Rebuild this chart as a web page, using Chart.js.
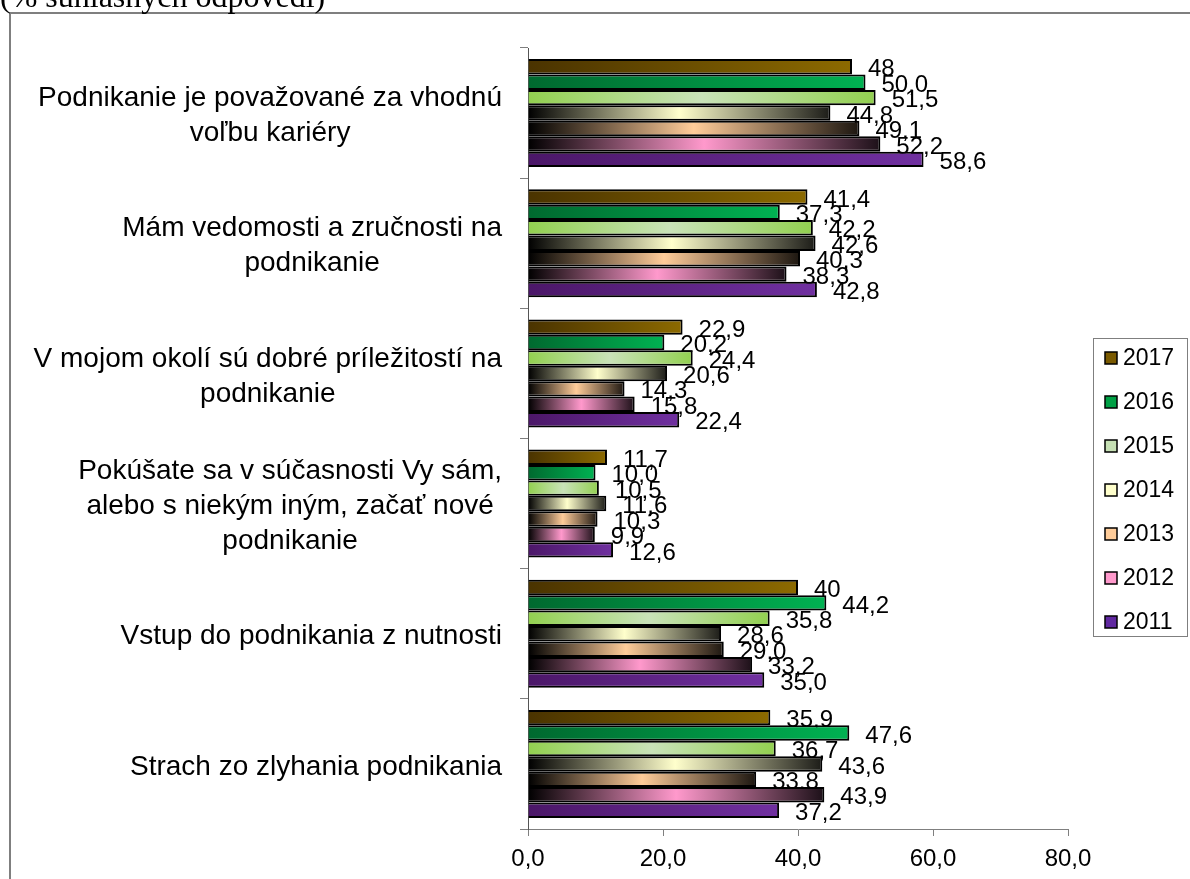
<!DOCTYPE html>
<html lang="sk">
<head>
<meta charset="utf-8">
<script src="https://cdn.jsdelivr.net/npm/chart.js@4"></script>
<style>
  html, body { margin: 0; padding: 0; background: #fff; overflow: hidden; }
  #graf { display: block; }
</style>
</head>
<body>
<canvas id="graf" width="1190" height="879"></canvas>
<script>
// kategórie (riadky popisu na osi y)
const kategorie = [
  ['Podnikanie je považované za vhodnú', 'voľbu kariéry'],
  ['Mám vedomosti a zručnosti na', 'podnikanie'],
  ['V mojom okolí sú dobré príležitostí na', 'podnikanie'],
  ['Pokúšate sa v súčasnosti Vy sám,', 'alebo s niekým iným, začať nové', 'podnikanie'],
  ['Vstup do podnikania z nutnosti'],
  ['Strach zo zlyhania podnikania']
];
const roky = ['2017', '2016', '2015', '2014', '2013', '2012', '2011'];

const hodnoty2017 = [48, 41.4, 22.9, 11.7, 40, 35.9];
const hodnoty2016 = [50.0, 37.3, 20.2, 10.0, 44.2, 47.6];
const hodnoty2015 = [51.5, 42.2, 24.4, 10.5, 35.8, 36.7];
const hodnoty2014 = [44.8, 42.6, 20.6, 11.6, 28.6, 43.6];
const hodnoty2013 = [49.1, 40.3, 14.3, 10.3, 29.0, 33.8];
const hodnoty2012 = [52.2, 38.3, 15.8, 9.9, 33.2, 43.9];
const hodnoty2011 = [58.6, 42.8, 22.4, 12.6, 35.0, 37.2];

const xTicky = [0, 20, 40, 60, 80];
const nadpis = '(% súhlasných odpovedí)';

// 2017 má v zdroji všeobecný formát čísla (48, 40), ostatné roky jedno desatinné miesto
const vseobecnyFormat = [true, false, false, false, false, false, false];

const vsetkyHodnoty = [hodnoty2017, hodnoty2016, hodnoty2015, hodnoty2014, hodnoty2013, hodnoty2012, hodnoty2011];

// farebné prechody pre jednotlivé roky
const prechody = [
  [[0, '#4a3300'], [1, '#8c6a00']],
  [[0, '#00692f'], [1, '#00b252']],
  [[0, '#92d050'], [0.5, '#c9e2b8'], [1, '#92d050']],
  [[0, '#000000'], [0.5, '#ffffcc'], [1, '#1c1c18']],
  [[0, '#000000'], [0.5, '#ffcc99'], [1, '#1c1610']],
  [[0, '#000000'], [0.5, '#ff99cc'], [1, '#1c1018']],
  [[0, '#4b1768'], [1, '#7030a0']]
];
const farbyLegendy = ['#7a5a00', '#00a045', '#c6e0b4', '#ffffcc', '#ffcc99', '#ff99cc', '#6028a0'];

const PISMO = '"Liberation Sans", Arial, sans-serif';

function formatuj(i, v) {
  const s = vseobecnyFormat[i] ? String(v) : v.toFixed(1);
  return s.replace('.', ',');
}

function vypln(stops) {
  return function (ctx) {
    const chart = ctx.chart;
    if (!chart.chartArea || ctx.type !== 'data') return stops[0][1];
    const os = chart.scales.x;
    const x0 = os.getPixelForValue(0);
    const x1 = os.getPixelForValue(ctx.raw);
    if (x1 - x0 < 1) return stops[0][1];
    const g = chart.ctx.createLinearGradient(x0, 0, x1, 0);
    stops.forEach(s => g.addColorStop(s[0], s[1]));
    return g;
  };
}

const ramik = {
  id: 'ramik',
  beforeDraw(chart) {
    const c = chart.ctx;
    c.save();
    c.strokeStyle = '#7f7f7f';
    c.lineWidth = 2;
    c.strokeRect(10, 13, 1300, 1000);
    c.font = '32px "Liberation Serif", "Times New Roman", serif';
    c.fillStyle = '#000';
    c.textBaseline = 'alphabetic';
    c.fillText(nadpis, 0, 7);
    c.restore();
  }
};

const popisyHodnot = {
  id: 'popisyHodnot',
  beforeDatasetsDraw(chart) {
    const c = chart.ctx;
    c.save();
    c.font = '24px ' + PISMO;
    c.fillStyle = '#000';
    c.textAlign = 'left';
    c.textBaseline = 'middle';
    chart.data.datasets.forEach((ds, i) => {
      chart.getDatasetMeta(i).data.forEach((bar, j) => {
        c.fillText(formatuj(i, ds.data[j]), bar.x + 16, bar.y + 3);
      });
    });
    c.restore();
  }
};

const popisyOsi = {
  id: 'popisyOsi',
  afterDraw(chart) {
    const c = chart.ctx;
    const os = chart.scales.y;
    c.save();
    c.font = '28px ' + PISMO;
    c.fillStyle = '#000';
    c.textAlign = 'center';
    c.textBaseline = 'middle';
    kategorie.forEach((riadky, i) => {
      const stred = os.getPixelForValue(i);
      const sirka = Math.max(...riadky.map(r => c.measureText(r).width));
      const xs = os.right - 26 - sirka / 2;
      riadky.forEach((r, j) => {
        c.fillText(r, xs, stred + 3 + (j - (riadky.length - 1) / 2) * 35);
      });
    });
    c.restore();
  }
};

const legenda = {
  id: 'legenda',
  afterDraw(chart) {
    const c = chart.ctx;
    const vlavo = chart.chartArea.right + 25;
    c.save();
    c.strokeStyle = '#7f7f7f';
    c.lineWidth = 1;
    c.strokeRect(vlavo + 0.5, 338.5, 94, 298);
    c.font = '23px ' + PISMO;
    c.textBaseline = 'middle';
    c.textAlign = 'left';
    roky.forEach((rok, i) => {
      const y = 358 + i * 44;
      c.fillStyle = farbyLegendy[i];
      c.fillRect(vlavo + 12, y - 6, 12, 12);
      c.strokeStyle = '#000';
      c.lineWidth = 1.5;
      c.strokeRect(vlavo + 12, y - 6, 12, 12);
      c.fillStyle = '#000';
      c.fillText(rok, vlavo + 30, y + 1);
    });
    c.restore();
  }
};

new Chart(document.getElementById('graf').getContext('2d'), {
  type: 'bar',
  data: {
    labels: kategorie,
    datasets: roky.map((rok, i) => ({
      label: rok,
      data: vsetkyHodnoty[i],
      backgroundColor: vypln(prechody[i]),
      borderColor: '#000',
      borderWidth: 2,
      categoryPercentage: 0.83,
      barPercentage: 1.0
    }))
  },
  options: {
    indexAxis: 'y',
    responsive: false,
    animation: false,
    layout: { padding: { left: 0, top: 48, right: 122, bottom: 0 } },
    plugins: {
      legend: { display: false },
      tooltip: { enabled: false }
    },
    scales: {
      x: {
        min: xTicky[0],
        max: xTicky[xTicky.length - 1],
        ticks: {
          stepSize: xTicky[1] - xTicky[0],
          color: '#000',
          font: { family: PISMO, size: 24 },
          padding: 9,
          maxRotation: 0,
          callback: v => v.toFixed(1).replace('.', ',')
        },
        grid: { drawOnChartArea: false, tickLength: 7, color: '#7f7f7f' },
        border: { color: '#7f7f7f', width: 1 },
        afterFit: s => { s.height = 50; }
      },
      y: {
        ticks: { display: false },
        grid: { drawOnChartArea: false, tickLength: 8, color: '#7f7f7f', offset: true },
        border: { color: '#555', width: 1 },
        afterFit: s => { s.width = 528; }
      }
    }
  },
  plugins: [ramik, popisyHodnot, popisyOsi, legenda]
});
</script>
</body>
</html>
